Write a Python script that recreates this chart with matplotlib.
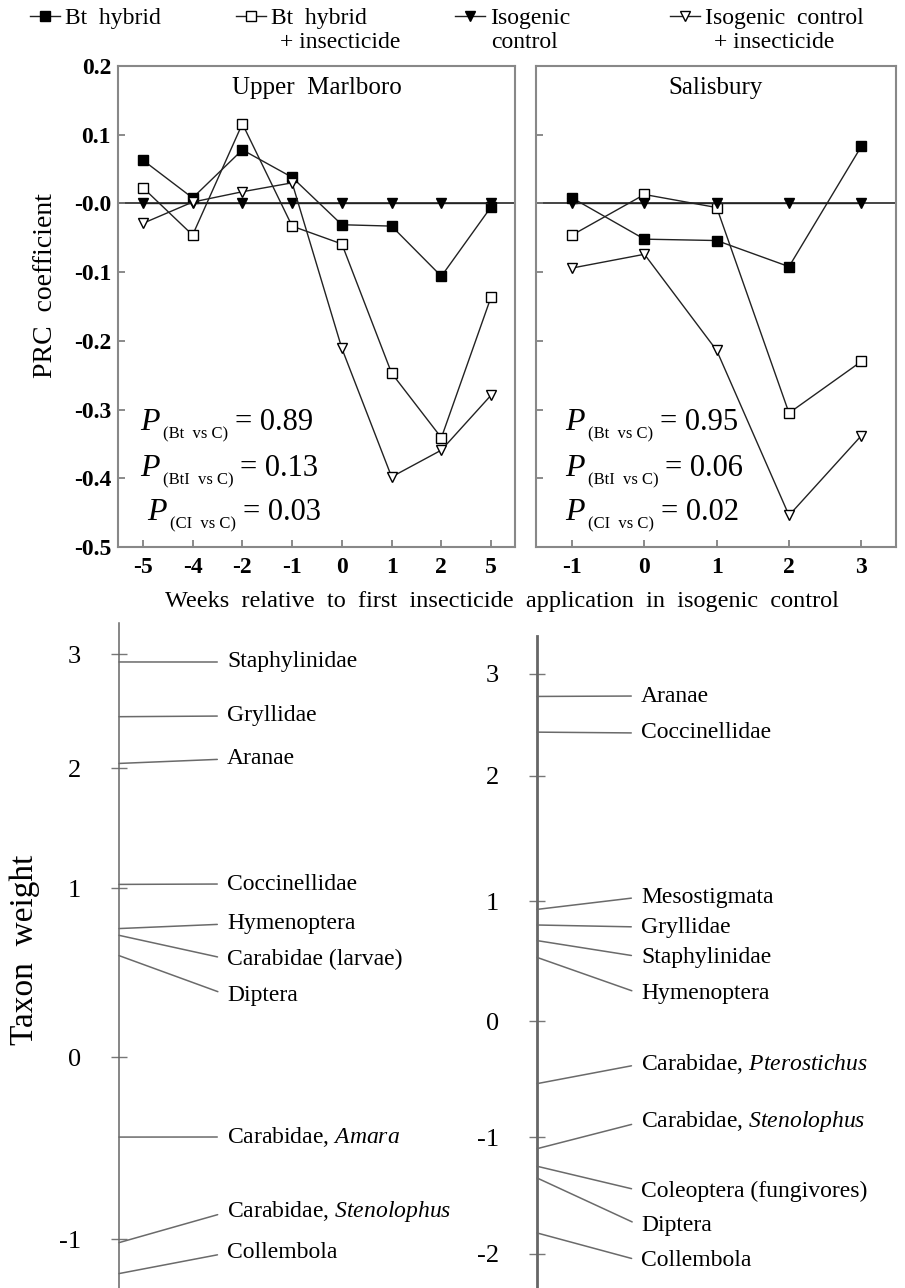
import numpy as np
import matplotlib
matplotlib.use('Agg')
import matplotlib.pyplot as plt

plt.rcParams['font.family'] = ['Liberation Serif', 'DejaVu Serif']
plt.rcParams['mathtext.fontset'] = 'custom'
plt.rcParams['mathtext.rm'] = 'Liberation Serif'
plt.rcParams['mathtext.it'] = 'Liberation Serif:italic'
plt.rcParams['mathtext.bf'] = 'Liberation Serif:bold'

W, H = 905, 1288

# ---- PRC coefficients (top panels)
series_names = ['Bt  hybrid', 'Bt  hybrid', 'Isogenic', 'Isogenic  control']
series_second = ['', '+ insecticide', 'control', '+ insecticide']

um_weeks = ['-5', '-4', '-2', '-1', '0', '1', '2', '5']
um_bt = [0.063, 0.008, 0.078, 0.038, -0.031, -0.033, -0.106, -0.005]
um_bti = [0.023, -0.046, 0.116, -0.033, -0.059, -0.247, -0.341, -0.136]
um_c = [0, 0, 0, 0, 0, 0, 0, 0]
um_ci = [-0.029, 0.002, 0.017, 0.030, -0.211, -0.398, -0.359, -0.279]
um_p = ['0.89', '0.13', '0.03']

sb_weeks = ['-1', '0', '1', '2', '3']
sb_bt = [0.008, -0.052, -0.054, -0.092, 0.083]
sb_bti = [-0.046, 0.013, -0.006, -0.305, -0.230]
sb_c = [0, 0, 0, 0, 0]
sb_ci = [-0.094, -0.074, -0.214, -0.454, -0.338]
sb_p = ['0.95', '0.06', '0.02']

p_subs = ['(Bt  vs C)', '(BtI  vs C)', '(CI  vs C)']

# ---- taxon weights (bottom panels)
um_taxa = ['Staphylinidae', 'Gryllidae', 'Aranae', 'Coccinellidae', 'Hymenoptera',
           'Carabidae (larvae)', 'Diptera', r'Carabidae, $\mathit{Amara}$',
           r'Carabidae, $\mathit{Stenolophus}$', 'Collembola']
um_wt = [2.93, 2.45, 2.04, 1.03, 0.76, 0.72, 0.60, -0.44, -1.02, -1.19]
um_label_rows = [662, 716, 759, 884, 924, 959, 995, 1137, 1212, 1253]
um_ticks = [3, 2, 1, 0, -1]
um_tick_rows = [654, 768, 888, 1057, 1239]

sb_taxa = ['Aranae', 'Coccinellidae', 'Mesostigmata', 'Gryllidae', 'Staphylinidae',
           'Hymenoptera', r'Carabidae, $\mathit{Pterostichus}$',
           r'Carabidae, $\mathit{Stenolophus}$', 'Coleoptera (fungivores)', 'Diptera',
           'Collembola']
sb_wt = [2.78, 2.43, 0.93, 0.80, 0.67, 0.53, -0.54, -1.10, -1.25, -1.35, -1.82]
sb_label_rows = [696, 733, 897, 927, 957, 994, 1064, 1122, 1191, 1226, 1261]
sb_ticks = [3, 2, 1, 0, -1, -2]
sb_tick_rows = [674, 776, 901, 1021, 1137, 1254]

fig = plt.figure(figsize=(W / 100, H / 100), dpi=100)


def px_axes(x0, y0, x1, y1):
    return fig.add_axes([x0 / W, 1 - y1 / H, (x1 - x0) / W, (y1 - y0) / H])


styles = [dict(marker='s', mfc='black', mec='black', ms=6.5),
          dict(marker='s', mfc='white', mec='black', ms=6.5, mew=1.0),
          dict(marker='v', mfc='black', mec='black', ms=6.5),
          dict(marker='v', mfc='white', mec='black', ms=6.5, mew=1.0)]


def prc_panel(ax, weeks, data, pvals, title, ylabels, px):
    ax.axhline(0, color='#444', lw=1.4, zorder=1)
    x = np.arange(len(weeks))
    lines = []
    for d, st in zip(data, styles):
        ln, = ax.plot(x, d, color='#222', lw=1.0, zorder=3, **st)
        lines.append(ln)
    ax.set_xticks(x)
    ax.set_xticklabels(weeks, fontweight='bold', fontsize=17)
    ax.set_xlim(-0.5, len(weeks) - 0.52)
    ax.set_ylim(-0.5, 0.2)
    yt = [0.2, 0.1, 0.0, -0.1, -0.2, -0.3, -0.4, -0.5]
    ax.set_yticks(yt)
    if ylabels:
        ax.set_yticklabels(['0.2', '0.1', '-0.0', '-0.1', '-0.2', '-0.3', '-0.4', '-0.5'],
                           fontweight='bold', fontsize=17)
    else:
        ax.set_yticklabels([])
    ax.tick_params(direction='in', length=5, width=1.2, color='#777', pad=5)
    ax.tick_params(axis='x', pad=7)
    for sp in ax.spines.values():
        sp.set_color('#888')
        sp.set_linewidth(1.5)
    ax.text(0.5, 0.955, title, transform=ax.transAxes, ha='center', va='center', fontsize=18)
    # P values: italic P, small subscript, then "= value" on P's baseline
    for pv, sub, xx, yy in zip(pvals, p_subs, px, [0.243, 0.147, 0.056]):
        pt = ax.text(xx, yy, '$P$', transform=ax.transAxes, fontsize=23,
                     va='baseline', ha='left')
        st = ax.annotate(sub, xy=(1, 0.1), xycoords=pt, xytext=(1.5, 0),
                         textcoords='offset points', fontsize=12, va='center', ha='left')
        ax.annotate('= ' + pv, xy=(1, 0), xycoords=(st, pt), xytext=(5, 0),
                    textcoords='offset points', fontsize=22, va='bottom', ha='left')
    return lines


ax1 = px_axes(118, 66, 515, 547)
ax2 = px_axes(536, 66, 896, 547)
lines = prc_panel(ax1, um_weeks, [um_bt, um_bti, um_c, um_ci], um_p, 'Upper  Marlboro', True,
                  [0.055, 0.055, 0.073])
prc_panel(ax2, sb_weeks, [sb_bt, sb_bti, sb_c, sb_ci], sb_p, 'Salisbury', False,
          [0.08, 0.08, 0.08])

fig.text(45 / W, 1 - 286 / H, 'PRC  coefficient', rotation=90, ha='center', va='center',
         fontsize=20)
fig.text(502 / W, 1 - 601 / H,
         'Weeks  relative  to  first  insecticide  application  in  isogenic  control',
         ha='center', va='center', fontsize=17.5)

# legend, one entry per column, second line as plain text
leg_x = [30, 236, 455, 670]
leg_off = [0, 8, 0, 8]
for ln, name, second, x0, off in zip(lines, series_names, series_second, leg_x, leg_off):
    fig.legend(handles=[ln], labels=[name], loc='center left',
               bbox_to_anchor=(x0 / W, 1 - 18 / H), frameon=False, fontsize=17,
               handlelength=1.27, handletextpad=0.22, borderpad=0, borderaxespad=0)
    if second:
        fig.text((x0 + 36 + off) / W, 1 - 42 / H, second, ha='left', va='center', fontsize=17)


# ---- bottom panels: taxon weights on a piecewise axis as in the original
def make_scale(vals, rows):
    v = np.asarray(vals, float)[::-1]
    p = -np.asarray(rows, float)[::-1]
    lo = (p[1] - p[0]) / (v[1] - v[0])
    hi = (p[-1] - p[-2]) / (v[-1] - v[-2])
    v = np.r_[v[0] - 10, v, v[-1] + 10]
    p = np.r_[p[0] - 10 * lo, p, p[-1] + 10 * hi]
    return (lambda a: np.interp(a, v, p)), (lambda b: np.interp(b, p, v))


def weight_panel(ax, taxa, wt, label_rows, ticks, tick_rows, top, text_x, spine_lw, label_pad):
    fwd, inv = make_scale(ticks, tick_rows)
    ax.set_yscale('function', functions=(fwd, inv))
    ax.set_ylim(inv(-H), inv(-top))
    ax.set_xlim(0, 1)
    for s in ['top', 'right', 'bottom']:
        ax.spines[s].set_visible(False)
    ax.spines['left'].set_color('#666')
    ax.spines['left'].set_linewidth(spine_lw)
    ax.set_xticks([])
    ax.set_yticks(ticks)
    ax.set_yticklabels([str(t) for t in ticks], fontsize=19)
    ax.yaxis.set_minor_locator(plt.NullLocator())
    ax.tick_params(axis='y', direction='inout', length=11, width=1.0, color='#777',
                   pad=label_pad)
    ax.patch.set_visible(False)
    span = H - top
    for name, w, row in zip(taxa, wt, label_rows):
        ax.annotate(name, xy=(0, w), xycoords=('axes fraction', 'data'),
                    xytext=(text_x, (H - row) / span), textcoords='axes fraction',
                    ha='left', va='center', fontsize=17,
                    arrowprops=dict(arrowstyle='-', color='#6a6a6a', lw=1.1, shrinkA=7,
                                    shrinkB=0, relpos=(0, 0.5), patchA=None))


ax3 = px_axes(119, 623, 480, H)
ax4 = px_axes(537, 636, 905, H)
weight_panel(ax3, um_taxa, um_wt, um_label_rows, um_ticks, um_tick_rows, 623,
             (227 - 119) / 361, 1.1, 22)
weight_panel(ax4, sb_taxa, sb_wt, sb_label_rows, sb_ticks, sb_tick_rows, 636,
             (641 - 537) / 368, 2.0, 22)

fig.text(25 / W, 1 - 950 / H, 'Taxon  weight', rotation=90, ha='center', va='center',
         fontsize=24)

fig.savefig('out.png', dpi=100)
